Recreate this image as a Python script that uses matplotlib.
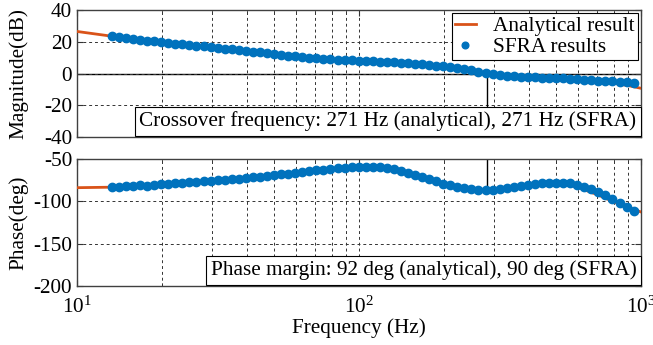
import numpy as np
import matplotlib
matplotlib.use("Agg")
import matplotlib.pyplot as plt

# Bode plot: analytical loop gain vs SFRA measurement

plt.rcParams["font.family"] = ["Liberation Serif", "DejaVu Serif"]
plt.rcParams["mathtext.fontset"] = "stix"
plt.rcParams["axes.unicode_minus"] = False

ORANGE = "#D95319"
BLUE = "#0072BD"

# ---- analytical curve ----
ana_freq = [10, 13.3, 20, 30, 40, 50, 60, 70, 80, 90, 100, 110, 120, 130, 150,
            175, 200, 225, 250, 280, 300, 350, 400, 450, 500, 550, 600, 700,
            800, 900, 1000]
ana_mag = [26.5, 23.5, 19.8, 16.6, 14.1, 12.4, 10.7, 9.7, 9.0, 8.5, 8.1, 7.7,
           7.4, 7.1, 6.6, 5.6, 4.7, 3.7, 2.2, 0.4, -0.6, -1.7, -2.3, -2.6, -2.9,
           -3.4, -3.9, -4.9, -6.1, -7.6, -9.3]
ana_phase = [-83.7, -83.1, -79.0, -75.2, -72.0, -68.9, -65.7, -63.2, -61.1,
             -59.7, -58.8, -58.6, -59.4, -61.0, -66.0, -73.0, -79.0, -83.2,
             -85.8, -86.6, -86.2, -83.3, -80.3, -78.5, -78.3, -80.0, -83.5,
             -92.0, -100.5, -107.0, -112.5]

# ---- SFRA measured points ----
sfra_freq = [13.3, 14.09, 14.92, 15.80, 16.74, 17.73, 18.78, 19.89, 21.07, 22.32,
             23.65, 25.05, 26.53, 28.10, 29.77, 31.53, 33.40, 35.38, 37.47, 39.69,
             42.06, 44.55, 47.19, 49.98, 52.94, 56.08, 59.40, 62.92, 66.65, 70.60,
             74.79, 79.22, 83.91, 88.88, 94.15, 99.73, 105.6, 111.9, 118.5, 125.6,
             133.0, 140.9, 149.2, 158.0, 167.4, 177.3, 187.8, 198.9, 210.7, 223.2,
             236.5, 250.5, 265.3, 281.0, 297.7, 315.3, 334.0, 353.8, 374.7, 396.9,
             420.6, 445.5, 471.9, 499.8, 529.4, 560.8, 594.0, 629.2, 666.5, 706.0,
             747.9, 792.2, 839.1, 888.8, 941.5]
sfra_mag = [23.5, 22.9, 22.4, 21.8, 21.3, 20.8, 20.3, 19.8, 19.4, 18.9,
            18.5, 18.0, 17.6, 17.1, 16.7, 16.2, 15.7, 15.2, 14.7, 14.2,
            13.7, 13.3, 12.8, 12.4, 11.9, 11.3, 10.8, 10.3, 10.0, 9.7,
            9.4, 9.1, 8.8, 8.5, 8.3, 8.1, 7.9, 7.7, 7.5, 7.3,
            7.0, 6.8, 6.6, 6.2, 5.8, 5.4, 5.0, 4.7, 4.2, 3.7,
            2.9, 2.1, 1.2, 0.3, -0.6, -1.1, -1.5, -1.8, -2.1, -2.3,
            -2.4, -2.6, -2.7, -2.9, -3.1, -3.4, -3.7, -3.9, -4.2, -4.4,
            -4.7, -5.0, -5.2, -5.5, -5.9]
sfra_phase = [-83.3, -82.4, -81.9, -81.8, -81.0, -81.6, -80.2, -79.6, -79.3, -78.6,
              -78.2, -77.4, -77.0, -76.3, -75.9, -75.0, -74.4, -73.8, -73.0, -72.3,
              -71.6, -70.9, -69.9, -68.9, -67.9, -66.9, -65.9, -65.0, -64.1, -63.1,
              -62.2, -61.3, -60.5, -59.8, -59.2, -58.8, -58.6, -58.7, -59.2, -60.2,
              -61.7, -63.6, -65.8, -68.3, -71.0, -73.7, -76.3, -78.8, -81.0, -83.0,
              -84.6, -85.8, -86.5, -86.6, -86.2, -85.4, -84.3, -83.0, -81.7, -80.5,
              -79.4, -78.5, -77.9, -77.6, -77.8, -78.6, -80.1, -82.3, -85.2, -88.7,
              -92.7, -97.1, -101.9, -106.8, -111.5]

# crossover marker as drawn in the figure
cross_hz = 285
cross_phase = -86.4

mag_ticks = [-40, -20, 0, 20, 40]
phase_ticks = [-200, -150, -100, -50]

fig = plt.figure(figsize=(6.53, 3.45), dpi=100)
ax1 = fig.add_axes([0.1179, 0.6029, 0.8637, 0.368])
ax2 = fig.add_axes([0.1179, 0.1719, 0.8637, 0.3664])

FS = 15.3

for ax in (ax1, ax2):
    ax.set_xscale("log")
    ax.set_xlim(10, 1000)
    ax.grid(True, which="both", axis="x", linestyle=(0, (3, 3)),
            color="#333333", linewidth=0.7)
    ax.grid(True, which="major", axis="y", linestyle=(0, (3, 3)),
            color="#333333", linewidth=0.7)
    ax.tick_params(which="both", direction="in", top=True, right=True,
                   labelsize=FS, color="#333333")
    ax.tick_params(which="major", length=4)
    ax.tick_params(which="minor", length=2.5)
    ax.tick_params(axis="x", which="major", pad=8)
    for sp in ax.spines.values():
        sp.set_color("#404040")
        sp.set_linewidth(1.0)
    ax.yaxis.set_label_coords(-0.087, 0.5)

# ---- magnitude ----
ax1.axhline(0, color="k", linewidth=1.0, zorder=1)
ax1.plot(ana_freq, ana_mag, color=ORANGE, linewidth=2.0, label="Analytical result", zorder=3)
ax1.plot(sfra_freq, sfra_mag, "o", color=BLUE, markersize=6,
         label="SFRA results", zorder=4)
ax1.plot([cross_hz, cross_hz], [0, -40], color="k", linewidth=1.0, zorder=2)
ax1.set_ylim(-40, 40)
ax1.set_yticks(mag_ticks)
ax1.tick_params(labelbottom=False)
ax1.set_ylabel("Magnitude(dB)", fontsize=FS)
leg = ax1.legend(loc="upper right", fontsize=FS, fancybox=False, framealpha=1,
                 edgecolor="k", borderaxespad=0.15, handlelength=1.0,
                 handletextpad=0.8, borderpad=0.15, labelspacing=0.05,
                 markerscale=0.8)
leg.get_frame().set_linewidth(0.8)
ax1.text(0.992, 0.045, "Crossover frequency: 271 Hz (analytical), 271 Hz (SFRA)",
         transform=ax1.transAxes, ha="right", va="bottom", fontsize=FS, zorder=5,
         bbox=dict(boxstyle="square,pad=0.22", facecolor="white", edgecolor="k",
                   linewidth=0.8))

# ---- phase ----
ax2.plot(ana_freq, ana_phase, color=ORANGE, linewidth=2.0, zorder=3)
ax2.plot(sfra_freq, sfra_phase, "o", color=BLUE, markersize=6, zorder=4)
ax2.plot([cross_hz, cross_hz], [-50, cross_phase], color="k", linewidth=1.0, zorder=2)
ax2.set_ylim(-200, -50)
ax2.set_yticks(phase_ticks)
ax2.set_ylabel("Phase(deg)", fontsize=FS)
ax2.set_xlabel("Frequency (Hz)", fontsize=FS, labelpad=0)
ax2.text(0.992, 0.045, "Phase margin: 92 deg (analytical), 90 deg (SFRA)",
         transform=ax2.transAxes, ha="right", va="bottom", fontsize=FS, zorder=5,
         bbox=dict(boxstyle="square,pad=0.22", facecolor="white", edgecolor="k",
                   linewidth=0.8))

fig.savefig("out.png", dpi=100)
